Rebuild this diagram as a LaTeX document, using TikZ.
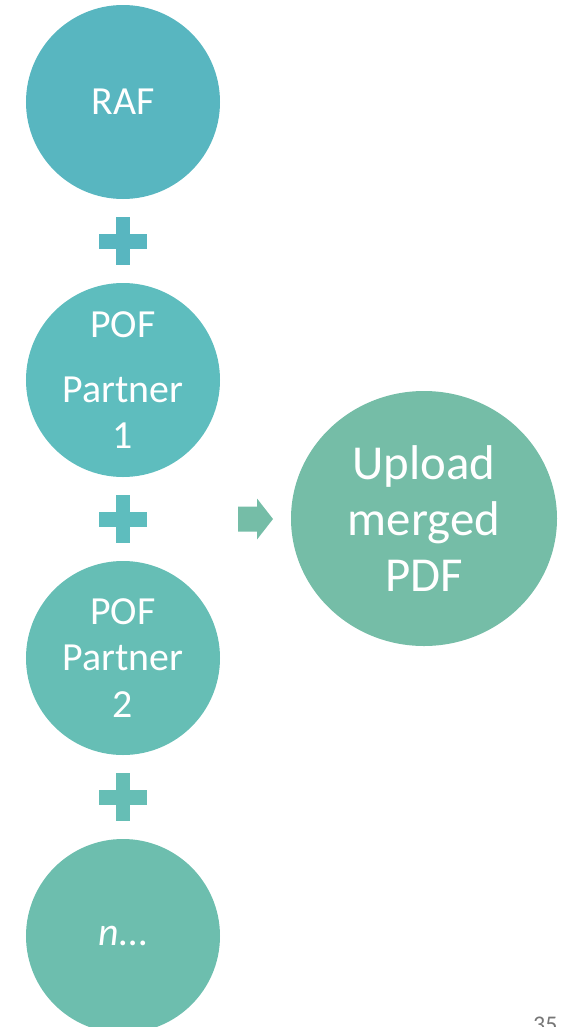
\documentclass[tikz,border=0pt]{standalone}
\usepackage{fontspec}
\setmainfont{Carlito}
\usetikzlibrary{shapes.geometric}
\definecolor{cA}{RGB}{88,182,192}
\definecolor{cB}{RGB}{94,189,190}
\definecolor{cC}{RGB}{102,190,181}
\definecolor{cD}{RGB}{109,190,174}
\definecolor{cE}{RGB}{117,189,167}
\definecolor{pgnum}{RGB}{118,118,118}
\begin{document}
\begin{tikzpicture}[x=1bp,y=-1bp,
  bub/.style={circle,inner sep=0pt,minimum size=194bp,text=white,align=center,
    font=\fontsize{40}{46}\selectfont},
  bigbub/.style={ellipse,inner sep=0pt,minimum width=266bp,minimum height=255bp,
    text=white,align=center,font=\fontsize{49}{56}\selectfont},
  plusmark/.pic={\fill (-24,-7.5) rectangle (24,7.5); \fill (-7,-24) rectangle (7,24);},
  arrowmark/.pic={\fill (-17,-12.5) -- (2,-12.5) -- (2,-20.5) -- (18,0) -- (2,20.5) -- (2,12.5) -- (-17,12.5) -- cycle;}]
\useasboundingbox (0,0) rectangle (561,1027);
\clip (0,0) rectangle (561,1027);
\node[bub,fill=cA] (raf) at (123,102) {RAF};
\node[bub,fill=cB] (pof1) at (123,380) {POF\\[19bp]Partner\\1};
\node[bub,fill=cC,font=\fontsize{40}{47}\selectfont] (pof2) at (123,658) {POF\\Partner\\2};
\node[bub,fill=cD] (nn) at (123,936) {\textit{n}…};
\node[bigbub,fill=cE] (up) at (424,518.5) {Upload\\merged\\PDF};
\pic[fill=cA] at (123,241) {plusmark};
\pic[fill=cB] at (123,519) {plusmark};
\pic[fill=cC] at (123,797) {plusmark};
\pic[fill=cE] at (255,519) {arrowmark};
\node[anchor=base west,inner sep=0pt,text=pgnum,font=\fontsize{24}{28}\selectfont] (pg) at (533,1032) {35};
\end{tikzpicture}
\end{document}
